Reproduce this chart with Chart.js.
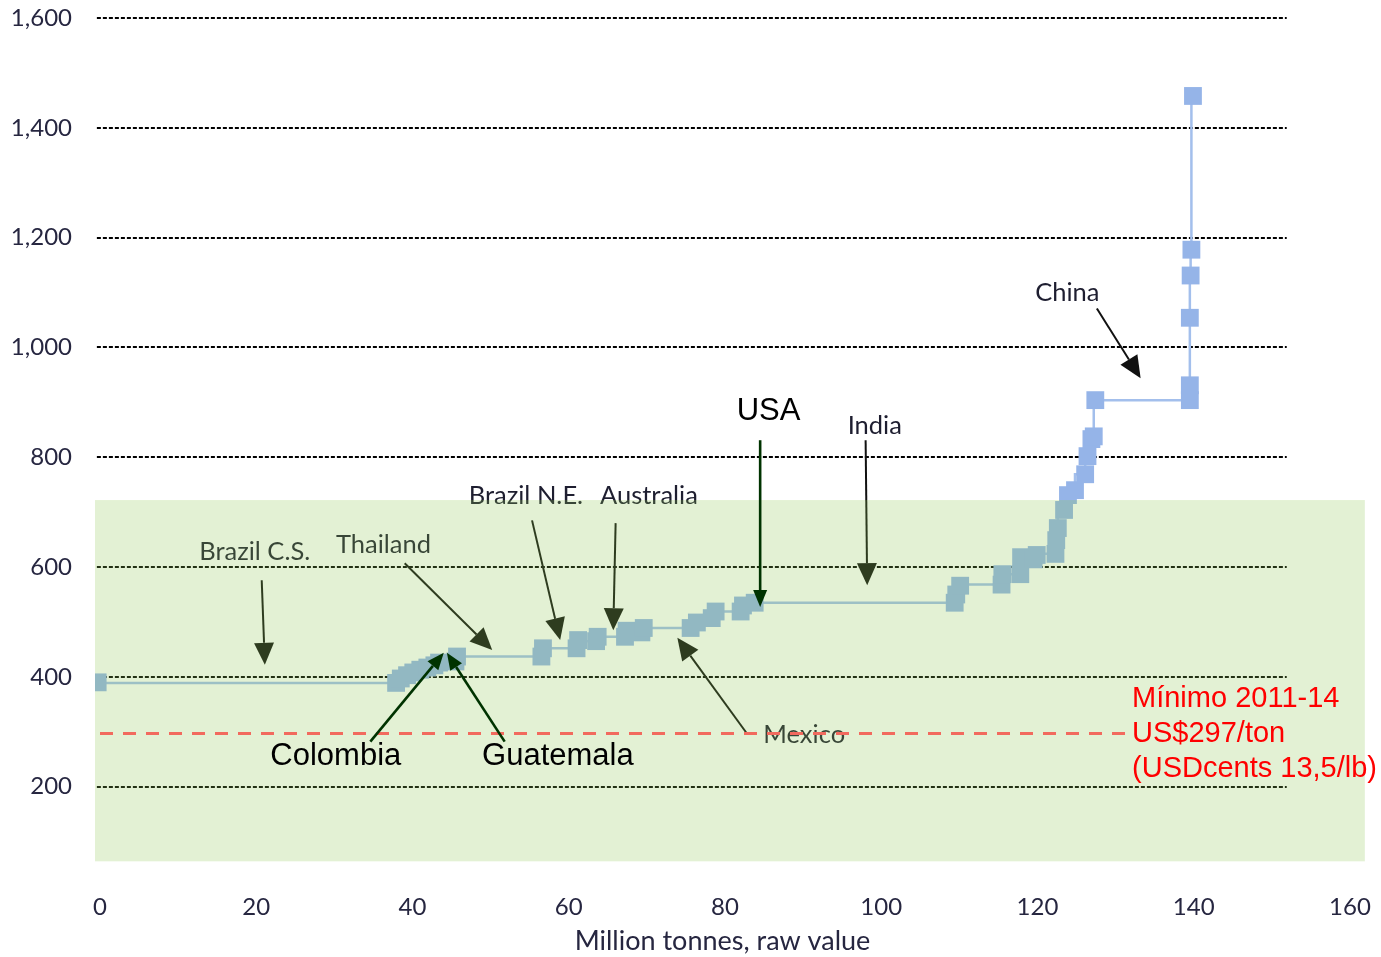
<!DOCTYPE html>
<html><head><meta charset="utf-8">
<script src="https://cdn.jsdelivr.net/npm/chart.js@4.4.1/dist/chart.umd.min.js"></script>
<style>html,body{margin:0;padding:0;background:#fff}#wrap{width:1381px;height:957px}</style>
</head><body><div id="wrap"><canvas id="c" width="1381" height="957"></canvas></div>
<script>
// Cumulative production (million tonnes) and cost (US$/ton)
const xs = [-0.3, 37.9, 38.5, 39.3, 40.1, 41.0, 41.9, 42.8, 43.4, 45.5, 45.7, 56.5, 56.7, 61.0, 61.2, 63.5, 63.7, 67.2, 67.4, 69.3, 69.6, 75.6, 76.4, 78.3, 78.8, 82.0, 82.3, 83.8, 109.4, 109.6, 110.1, 115.4, 115.5, 117.8, 117.9, 119.5, 119.9, 122.3, 122.4, 122.6, 123.4, 123.9, 124.8, 126.1, 126.4, 126.9, 127.2, 127.4, 139.5, 139.5, 139.5, 139.6, 139.7, 139.9];
const ys = [390, 389, 397, 403, 408, 413, 417, 421, 426, 428, 437, 437, 452, 452, 467, 465, 473, 473, 484, 481, 489, 489, 499, 507, 519, 519, 530, 535, 535, 550, 566, 568, 587, 587, 618, 614, 622, 624, 649, 671, 704, 731, 740, 769, 802, 833, 838, 904, 904, 931, 1054, 1131, 1178, 1458];
const yTicks = [200, 400, 600, 800, 1000, 1200, 1400, 1600];
const xTicks = [0, 20, 40, 60, 80, 100, 120, 140, 160];
const minPrice = 297;
const minPriceLabel = ["Mínimo 2011-14", "US$297/ton", "(USDcents 13,5/lb)"];
const shadedBand = {x0: -0.64, x1: 161.9, y0: 64, y1: 722};
// Original chart labels: [text, x, y]
const origLabels = [["Brazil C.S.", 12.7, 627], ["Thailand", 30.2, 640], ["Brazil N.E.", 47.2, 729], ["Australia", 64.0, 729], ["India", 95.7, 858], ["Mexico", 84.9, 294.5], ["China", 119.7, 1100]];
// Original arrows: [x1,y1,x2,y2]
const origArrows = [[20.7, 576, 21.1, 422], [39.0, 607, 50.2, 449], [55.3, 685, 58.9, 467], [66.0, 680, 65.7, 485], [98.0, 831, 98.2, 567], [82.9, 295, 73.9, 471], [127.6, 1071, 133.2, 944]];
const addedLabels = [["USA", 81.5, 883.6], ["Colombia", 21.8, 254.5], ["Guatemala", 48.9, 254.5]];
const addedArrows = [[84.5, 831, 84.5, 527], [34.6, 282, 44.0, 444], [51.8, 282, 44.4, 444]];

function arrow(ctx, x1, y1, x2, y2, color, lw, hl, hw) {
  const a = Math.atan2(y2 - y1, x2 - x1);
  const bx = x2 - hl * Math.cos(a), by = y2 - hl * Math.sin(a);
  ctx.save();
  ctx.strokeStyle = color; ctx.fillStyle = color; ctx.lineWidth = lw; ctx.setLineDash([]);
  ctx.beginPath(); ctx.moveTo(x1, y1); ctx.lineTo(bx, by); ctx.stroke();
  ctx.beginPath(); ctx.moveTo(x2, y2);
  ctx.lineTo(bx + hw / 2 * Math.sin(a), by - hw / 2 * Math.cos(a));
  ctx.lineTo(bx - hw / 2 * Math.sin(a), by + hw / 2 * Math.cos(a));
  ctx.closePath(); ctx.fill();
  ctx.restore();
}

const under = {
  id: 'under',
  beforeDatasetsDraw(chart) {
    const ctx = chart.ctx, X = chart.scales.x, Y = chart.scales.y;
    ctx.save();
    ctx.strokeStyle = '#000'; ctx.lineWidth = 2; ctx.setLineDash([4, 2]);
    const gx0 = X.getPixelForValue(-0.4), gx1 = X.getPixelForValue(151.9);
    yTicks.forEach(v => {
      const py = Math.round(Y.getPixelForValue(v));
      ctx.beginPath(); ctx.moveTo(gx0, py); ctx.lineTo(gx1, py); ctx.stroke();
    });
    ctx.restore();
    origArrows.forEach(a => arrow(ctx, X.getPixelForValue(a[0]), Y.getPixelForValue(a[1]), X.getPixelForValue(a[2]), Y.getPixelForValue(a[3]), '#111', 2, 22, 20));
    ctx.save();
    ctx.font = '25.5px Lato'; ctx.fillStyle = '#1e1e30'; ctx.textBaseline = 'middle'; ctx.textAlign = 'left';
    origLabels.forEach(l => ctx.fillText(l[0], X.getPixelForValue(l[1]), Y.getPixelForValue(l[2])));
    ctx.restore();
  },
  afterDatasetsDraw(chart) {
    const ctx = chart.ctx, X = chart.scales.x, Y = chart.scales.y;
    ctx.save();
    const bx0 = X.getPixelForValue(shadedBand.x0), bx1 = X.getPixelForValue(shadedBand.x1);
    const by0 = Y.getPixelForValue(shadedBand.y1), by1 = Y.getPixelForValue(shadedBand.y0);
    ctx.fillStyle = 'rgba(141,198,80,0.245)';
    ctx.fillRect(bx0, by0, bx1 - bx0, by1 - by0);
    // red minimum line
    ctx.strokeStyle = '#f26a5e'; ctx.lineWidth = 3; ctx.setLineDash([13, 10]);
    const ry = Y.getPixelForValue(minPrice);
    ctx.beginPath(); ctx.moveTo(X.getPixelForValue(0), ry); ctx.lineTo(X.getPixelForValue(131.6), ry); ctx.stroke();
    ctx.setLineDash([]);
    ctx.font = '29px "Liberation Sans", Arial'; ctx.fillStyle = '#ff0000'; ctx.textBaseline = 'middle';
    const rx = X.getPixelForValue(132.1);
    ctx.fillText(minPriceLabel[0], rx, Y.getPixelForValue(360));
    ctx.fillText(minPriceLabel[1], rx, Y.getPixelForValue(296.4));
    ctx.fillText(minPriceLabel[2], rx, Y.getPixelForValue(232.7));
    ctx.restore();
    addedArrows.forEach(a => arrow(ctx, X.getPixelForValue(a[0]), Y.getPixelForValue(a[1]), X.getPixelForValue(a[2]), Y.getPixelForValue(a[3]), '#003300', 2.6, 17, 14));
    ctx.save();
    ctx.font = '31px "Liberation Sans", Arial'; ctx.fillStyle = '#000'; ctx.textBaseline = 'middle';
    addedLabels.forEach(l => ctx.fillText(l[0], X.getPixelForValue(l[1]), Y.getPixelForValue(l[2])));
    ctx.restore();
  }
};

new Chart(document.getElementById('c'), {
  type: 'line',
  data: {
    datasets: [{
      data: xs.map((x, i) => ({x: x, y: ys[i]})),
      stepped: 'after',
      borderColor: '#a3bfec',
      borderWidth: 2.5,
      pointStyle: 'rect',
      pointRadius: 12.6,
      pointBorderWidth: 0,
      pointBackgroundColor: '#95b4e8',
      pointBorderColor: '#95b4e8',
      fill: false
    }]
  },
  options: {
    responsive: false,
    animation: false,
    devicePixelRatio: 1,
    layout: {padding: {top: 18, right: 31, left: 0, bottom: 0}},
    plugins: {legend: {display: false}, tooltip: {enabled: false}},
    scales: {
      x: {
        type: 'linear', min: -0.64, max: 160,
        afterBuildTicks: s => { s.ticks = xTicks.map(v => ({value: v})); },
        afterFit: s => { s.height = 77; s.paddingLeft = 0; s.paddingRight = 0; },
        grid: {display: false, drawTicks: false},
        border: {display: false},
        ticks: {padding: 13, color: '#262640', font: {family: 'Lato', size: 24}, maxRotation: 0},
        title: {display: true, text: 'Million tonnes, raw value', color: '#262640', font: {family: 'Lato', size: 27}, padding: {top: 0, bottom: 0}}
      },
      y: {
        type: 'linear', min: 30, max: 1600,
        afterBuildTicks: s => { s.ticks = yTicks.map(v => ({value: v})); },
        afterFit: s => { s.width = 95; s.paddingTop = 0; s.paddingBottom = 0; },
        grid: {display: false, drawTicks: false},
        border: {display: false},
        ticks: {padding: 23, color: '#262640', font: {family: 'Lato', size: 24},
          callback: v => v.toLocaleString('en-US')}
      }
    }
  },
  plugins: [under]
});
</script></body></html>
